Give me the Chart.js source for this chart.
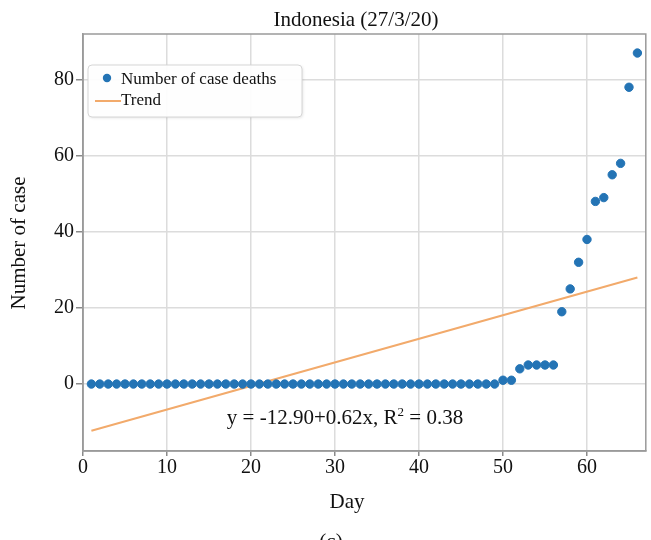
<!DOCTYPE html>
<html>
<head>
<meta charset="utf-8">
<script src="https://cdn.jsdelivr.net/npm/chart.js@4/dist/chart.umd.min.js"></script>
<style>
  html, body { margin: 0; padding: 0; background: #fff; }
  #wrap { width: 651px; height: 540px; }
</style>
</head>
<body>
<div id="wrap"><canvas id="deathChart" width="651" height="540"></canvas></div>
<script>
// Day numbers and cumulative deaths (Indonesia, up to 27/3/20)
const days = [
  1, 2, 3, 4, 5, 6, 7, 8, 9, 10, 11, 12, 13, 14, 15, 16, 17, 18, 19, 20, 21, 22,
  23, 24, 25, 26, 27, 28, 29, 30, 31, 32, 33, 34, 35, 36, 37, 38, 39, 40, 41, 42, 43,
  44, 45, 46, 47, 48, 49, 50, 51, 52, 53, 54, 55, 56, 57, 58, 59, 60, 61, 62, 63,
  64, 65, 66
];
const deaths = [
  0, 0, 0, 0, 0, 0, 0, 0, 0, 0, 0, 0, 0, 0, 0, 0, 0, 0, 0, 0, 0, 0,
  0, 0, 0, 0, 0, 0, 0, 0, 0, 0, 0, 0, 0, 0, 0, 0, 0, 0, 0, 0, 0,
  0, 0, 0, 0, 0, 0, 1, 1, 4, 5, 5, 5, 5, 19, 25, 32, 38, 48, 49, 55,
  58, 78, 87
];

// Trend line end points
const trendDays = [1, 66];
const trendValues = [-12.3, 28.0];

const xTicks = [0, 10, 20, 30, 40, 50, 60];
const yTicks = [0, 20, 40, 60, 80];

const chartTitle = 'Indonesia (27/3/20)';
const xTitle = 'Day';
const yTitle = 'Number of case';
const panelLetter = '(c)';
const equationText = 'y = -12.90+0.62x, R';
const equationTail = ' = 0.38';
const serif = '"Liberation Serif", "DejaVu Serif", serif';

const blue = '#2474b5';
const orange = '#f2aa6b';

// Frame, legend box, equation, titles and panel letter
const extras = {
    id: 'extras',
    afterDraw(chart) {
        const ctx = chart.ctx;
        const a = chart.chartArea;
        ctx.save();

        ctx.strokeStyle = '#9a9a9a';
        ctx.lineWidth = 1.5;
        ctx.strokeRect(a.left, a.top, a.right - a.left, a.bottom - a.top);

        // legend
        const lx = 88, ly = 65, lw = 214, lh = 52;
        ctx.shadowColor = 'rgba(0,0,0,0.12)';
        ctx.shadowBlur = 3;
        ctx.shadowOffsetX = 1;
        ctx.shadowOffsetY = 1;
        ctx.fillStyle = 'rgba(255,255,255,0.95)';
        ctx.beginPath();
        ctx.roundRect(lx, ly, lw, lh, 4);
        ctx.fill();
        ctx.shadowColor = 'transparent';
        ctx.strokeStyle = '#d6d6d6';
        ctx.lineWidth = 1;
        ctx.stroke();

        ctx.fillStyle = blue;
        ctx.beginPath();
        ctx.arc(107, 78, 4.2, 0, Math.PI * 2);
        ctx.fill();

        ctx.strokeStyle = orange;
        ctx.lineWidth = 2;
        ctx.beginPath();
        ctx.moveTo(95, 101);
        ctx.lineTo(121, 101);
        ctx.stroke();

        ctx.fillStyle = '#111';
        ctx.font = '17px ' + serif;
        ctx.textAlign = 'left';
        ctx.textBaseline = 'alphabetic';
        ctx.fillText('Number of case deaths', 121, 84);
        ctx.fillText('Trend', 121, 105);

        // equation
        ctx.font = '21px ' + serif;
        const w1 = ctx.measureText(equationText).width;
        ctx.font = '13px ' + serif;
        const w2 = ctx.measureText('2').width;
        ctx.font = '21px ' + serif;
        const w3 = ctx.measureText(equationTail).width;
        let ex = 345 - (w1 + w2 + w3) / 2;
        const ey = 424;
        ctx.fillText(equationText, ex, ey);
        ex += w1;
        ctx.font = '13px ' + serif;
        ctx.fillText('2', ex, ey - 8);
        ex += w2;
        ctx.font = '21px ' + serif;
        ctx.fillText(equationTail, ex, ey);

        // titles and panel letter
        ctx.textAlign = 'center';
        ctx.font = '21px ' + serif;
        ctx.fillText(chartTitle, 356, 26);
        ctx.fillText(xTitle, 347, 508);
        ctx.fillText(panelLetter, 331, 548);

        ctx.translate(19, 243);
        ctx.rotate(-Math.PI / 2);
        ctx.textBaseline = 'middle';
        ctx.fillText(yTitle, 0, 0);

        ctx.restore();
    }
};

const ctx = document.getElementById('deathChart').getContext('2d');
new Chart(ctx, {
    type: 'scatter',
    data: {
        datasets: [{
            label: 'Number of case deaths',
            data: days.map((d, i) => ({ x: d, y: deaths[i] })),
            backgroundColor: blue,
            borderColor: blue,
            pointRadius: 4.2,
            pointHoverRadius: 4.2,
            order: 1
        }, {
            label: 'Trend',
            type: 'line',
            data: trendDays.map((d, i) => ({ x: d, y: trendValues[i] })),
            borderColor: orange,
            borderWidth: 2,
            pointRadius: 0,
            fill: false,
            order: 2
        }]
    },
    options: {
        responsive: false,
        animation: false,
        events: [],
        layout: { padding: { top: 34, right: 2, left: 0, bottom: 0 } },
        plugins: {
            legend: { display: false },
            title: { display: false },
            tooltip: { enabled: false }
        },
        scales: {
            x: {
                type: 'linear',
                min: 0,
                max: 67,
                afterFit: s => { s.height = 89; },
                afterBuildTicks: s => { s.ticks = xTicks.map(v => ({ value: v })); },
                ticks: {
                    color: '#111',
                    font: { family: serif, size: 20 },
                    padding: 0,
                    maxRotation: 0
                },
                grid: {
                    color: '#dcdcdc',
                    lineWidth: 1.5,
                    tickLength: 5,
                    tickColor: '#8a8a8a'
                },
                border: { color: '#9a9a9a', width: 1.5 }
            },
            y: {
                min: -17.6,
                max: 92,
                afterFit: s => { s.width = 83; },
                afterBuildTicks: s => { s.ticks = yTicks.map(v => ({ value: v })); },
                ticks: {
                    color: '#111',
                    font: { family: serif, size: 20 },
                    padding: 2
                },
                grid: {
                    color: '#dcdcdc',
                    lineWidth: 1.5,
                    tickLength: 7,
                    tickColor: '#8a8a8a'
                },
                border: { color: '#9a9a9a', width: 1.5 }
            }
        }
    },
    plugins: [extras]
});
</script>
</body>
</html>
